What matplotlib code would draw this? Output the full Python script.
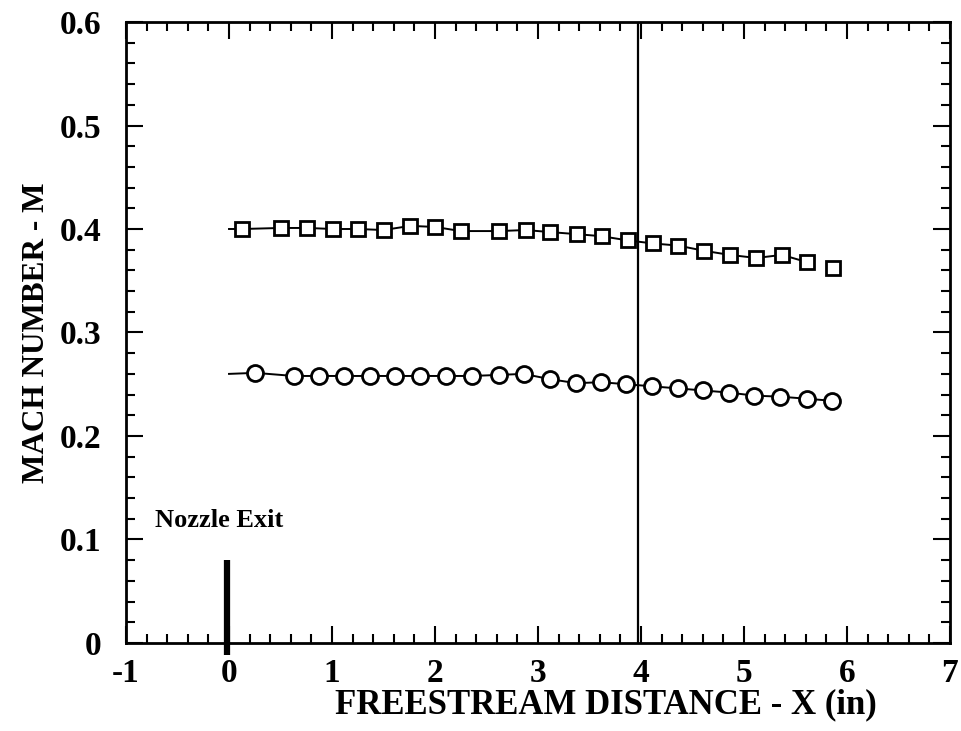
import matplotlib
matplotlib.use("Agg")
import matplotlib.pyplot as plt
from matplotlib.ticker import MultipleLocator, FixedLocator

# ---- data ----
sq_x = [0.13, 0.50, 0.76, 1.01, 1.25, 1.50, 1.76, 2.00, 2.25,
        2.62, 2.88, 3.12, 3.38, 3.62, 3.87, 4.12, 4.36, 4.61, 4.86,
        5.12, 5.37, 5.61, 5.86]
sq_m = [0.400, 0.401, 0.401, 0.400, 0.400, 0.399, 0.403, 0.402, 0.398,
        0.398, 0.399, 0.397, 0.395, 0.393, 0.389, 0.386, 0.384, 0.379, 0.375,
        0.372, 0.375, 0.368, 0.362]
sq_line_x = [0.0] + sq_x[:-1]
sq_line_m = [0.400] + sq_m[:-1]

ci_x = [0.255, 0.627, 0.870, 1.113, 1.365, 1.615, 1.857, 2.110, 2.359,
        2.617, 2.860, 3.113, 3.372, 3.612, 3.857, 4.107, 4.355, 4.602,
        4.850, 5.100, 5.350, 5.610, 5.855]
ci_m = [0.261, 0.258, 0.258, 0.258, 0.258, 0.258, 0.258, 0.258, 0.258,
        0.259, 0.260, 0.255, 0.251, 0.252, 0.250, 0.248, 0.246, 0.244,
        0.242, 0.239, 0.238, 0.236, 0.234]
ci_line_x = [0.0] + ci_x
ci_line_m = [0.260] + ci_m

ref_line_x = 3.97
nozzle_x = -0.02
nozzle_m = [-0.012, 0.080]

x_ticks = [-1, 0, 1, 2, 3, 4, 5, 6, 7]
y_ticks = [0, 0.1, 0.2, 0.3, 0.4, 0.5, 0.6]
y_tick_labels = ["0", "0.1", "0.2", "0.3", "0.4", "0.5", "0.6"]

plt.rcParams['font.family'] = ['Liberation Serif', 'DejaVu Serif']
plt.rcParams['font.weight'] = 'bold'
plt.rcParams['axes.unicode_minus'] = False

fig = plt.figure(figsize=(9.62, 7.31), dpi=100)
ax = fig.add_axes([0.131, 0.1204, 0.8565, 0.8495])

ax.plot(sq_line_x, sq_line_m, color='black', lw=1.4)
ax.plot(sq_x, sq_m, linestyle='none', marker='s', markersize=10.5,
        markerfacecolor='white', markeredgecolor='black', markeredgewidth=2.0)
ax.plot(ci_line_x, ci_line_m, color='black', lw=1.4)
ax.plot(ci_x, ci_m, linestyle='none', marker='o', markersize=11.5,
        markerfacecolor='white', markeredgecolor='black', markeredgewidth=2.0)

ax.axvline(ref_line_x, color='black', lw=1.6)
ax.plot([nozzle_x, nozzle_x], nozzle_m, color='black', lw=4.5,
        solid_capstyle='butt', clip_on=False, zorder=5)
ax.text(-0.716, 0.112, "Nozzle Exit", fontsize=19, fontweight='bold',
        ha='left', va='baseline')

ax.set_xlim(-1, 7)
ax.set_ylim(0, 0.6)
ax.xaxis.set_major_locator(FixedLocator(x_ticks))
ax.xaxis.set_minor_locator(MultipleLocator(0.2))
ax.yaxis.set_major_locator(FixedLocator(y_ticks))
ax.set_yticklabels(y_tick_labels)
ax.yaxis.set_minor_locator(MultipleLocator(0.02))

ax.tick_params(which='both', direction='in', top=True, right=True, width=1.5)
ax.tick_params(which='major', length=12)
ax.tick_params(which='minor', length=6.5)
ax.tick_params(axis='x', which='major', labelsize=24, pad=11)
ax.tick_params(axis='y', which='major', labelsize=24, pad=18)
for lab in ax.get_xticklabels() + ax.get_yticklabels():
    lab.set_fontweight('bold')
for s in ax.spines.values():
    s.set_linewidth(2)

ax.set_xlabel("FREESTREAM DISTANCE - X (in)", fontsize=25, fontweight='bold',
              labelpad=-1)
ax.xaxis.label.set_x(0.582)
ax.set_ylabel("MACH NUMBER - M", fontsize=22.5, fontweight='bold', labelpad=6)

fig.savefig("out.png", dpi=100)
